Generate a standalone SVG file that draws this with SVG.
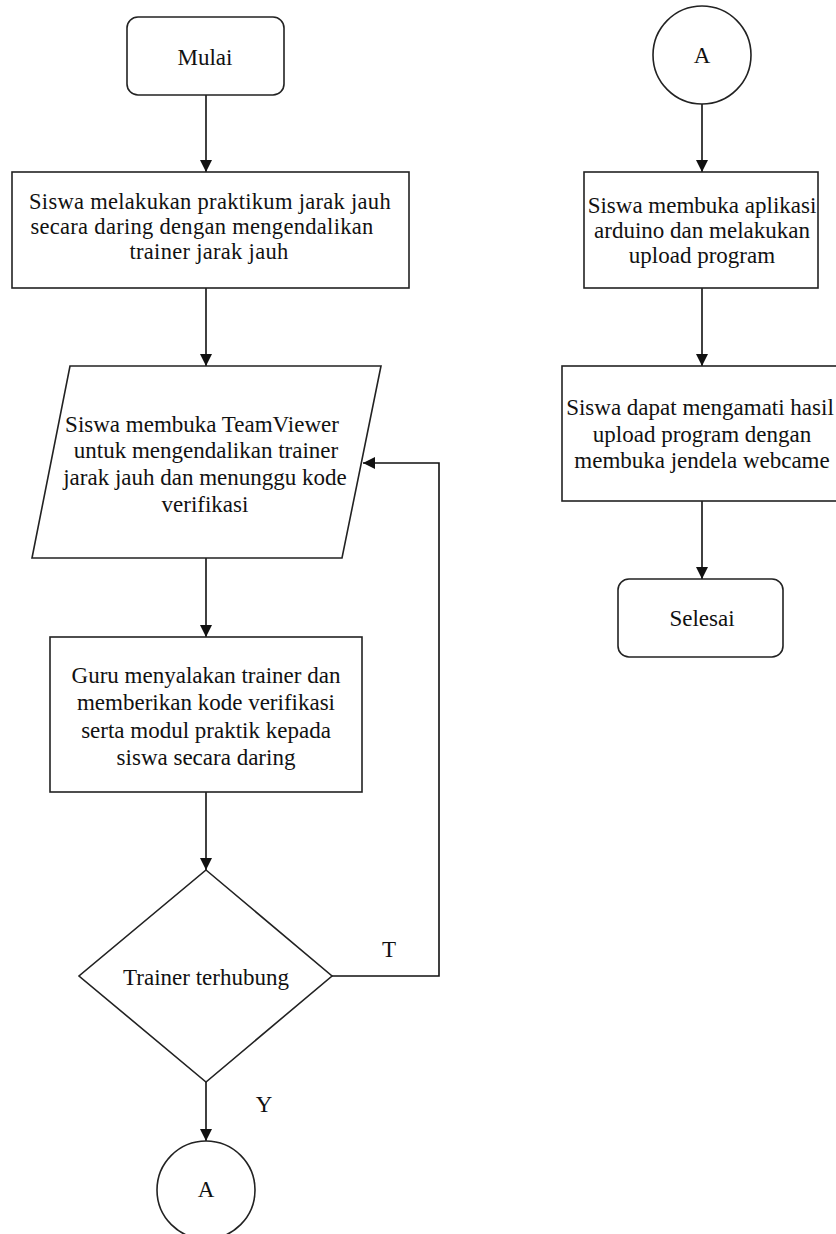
<svg xmlns="http://www.w3.org/2000/svg" width="836" height="1234" viewBox="0 0 836 1234">
<defs>
<marker id="arr" markerUnits="userSpaceOnUse" markerWidth="12" markerHeight="12" refX="12" refY="6" orient="auto">
<path d="M0,0 L12,6 L0,12 z" fill="#111"/>
</marker>
<style>
.shape{fill:#fff;stroke:#222;stroke-width:1.6}
.conn{fill:none;stroke:#111;stroke-width:1.6;marker-end:url(#arr)}
text{font-family:"Liberation Serif","Times New Roman",serif;font-size:23px;fill:#111;text-anchor:middle}
.tight{font-size:22.5px;letter-spacing:0.3px}
</style>
</defs>
<rect width="836" height="1234" fill="#fff"/>
<g id="connectors">
<line class="conn" x1="206" y1="95" x2="206" y2="172"/>
<line class="conn" x1="206" y1="288" x2="206" y2="366"/>
<line class="conn" x1="206" y1="558" x2="206" y2="637"/>
<line class="conn" x1="206" y1="792" x2="206" y2="870"/>
<line class="conn" x1="206" y1="1082" x2="206" y2="1141"/>
<polyline class="conn" points="332,976 439,976 439,463 363,463"/>
<line class="conn" x1="702" y1="104" x2="702" y2="172"/>
<line class="conn" x1="702" y1="288" x2="702" y2="366"/>
<line class="conn" x1="702" y1="501" x2="702" y2="579"/>
<text x="389" y="957">T</text>
<text x="264" y="1112">Y</text>
</g>
<g id="start">
<rect class="shape" x="127" y="17" width="157" height="78" rx="11"/>
<text x="205" y="65">Mulai</text>
</g>
<g id="step1">
<rect class="shape" x="12" y="172" width="397" height="116"/>
<text class="tight" x="210" y="209">Siswa melakukan praktikum jarak jauh</text>
<text class="tight" x="202" y="234">secara daring dengan mengendalikan</text>
<text class="tight" x="209" y="259">trainer jarak jauh</text>
</g>
<g id="step2">
<polygon class="shape" points="70,366 381,366 342,558 32,558"/>
<text x="202" y="432">Siswa membuka TeamViewer</text>
<text x="206" y="458">untuk mengendalikan trainer</text>
<text x="205" y="485">jarak jauh dan menunggu kode</text>
<text x="205" y="512">verifikasi</text>
</g>
<g id="step3">
<rect class="shape" x="50" y="637" width="312" height="155"/>
<text x="206" y="683">Guru menyalakan trainer dan</text>
<text x="206" y="710">memberikan kode verifikasi</text>
<text x="206" y="738">serta modul praktik kepada</text>
<text x="206" y="765">siswa secara daring</text>
</g>
<g id="decision">
<polygon class="shape" points="206,870 332,976 206,1082 79,976"/>
<text x="206" y="985">Trainer terhubung</text>
</g>
<g id="connA1">
<circle class="shape" cx="206" cy="1190" r="49"/>
<text x="206" y="1197">A</text>
</g>
<g id="connA2">
<circle class="shape" cx="702" cy="55" r="49"/>
<text x="702" y="63">A</text>
</g>
<g id="step4">
<rect class="shape" x="584" y="172" width="234" height="116"/>
<text x="702" y="213">Siswa membuka aplikasi</text>
<text x="702" y="238">arduino dan melakukan</text>
<text x="702" y="263">upload program</text>
</g>
<g id="step5">
<rect class="shape" x="562" y="366" width="284" height="135"/>
<text x="700" y="415">Siswa dapat mengamati hasil</text>
<text x="702" y="442">upload program dengan</text>
<text x="702" y="468">membuka jendela webcame</text>
</g>
<g id="end">
<rect class="shape" x="618" y="579" width="165" height="78" rx="11"/>
<text x="702" y="626">Selesai</text>
</g>
</svg>
